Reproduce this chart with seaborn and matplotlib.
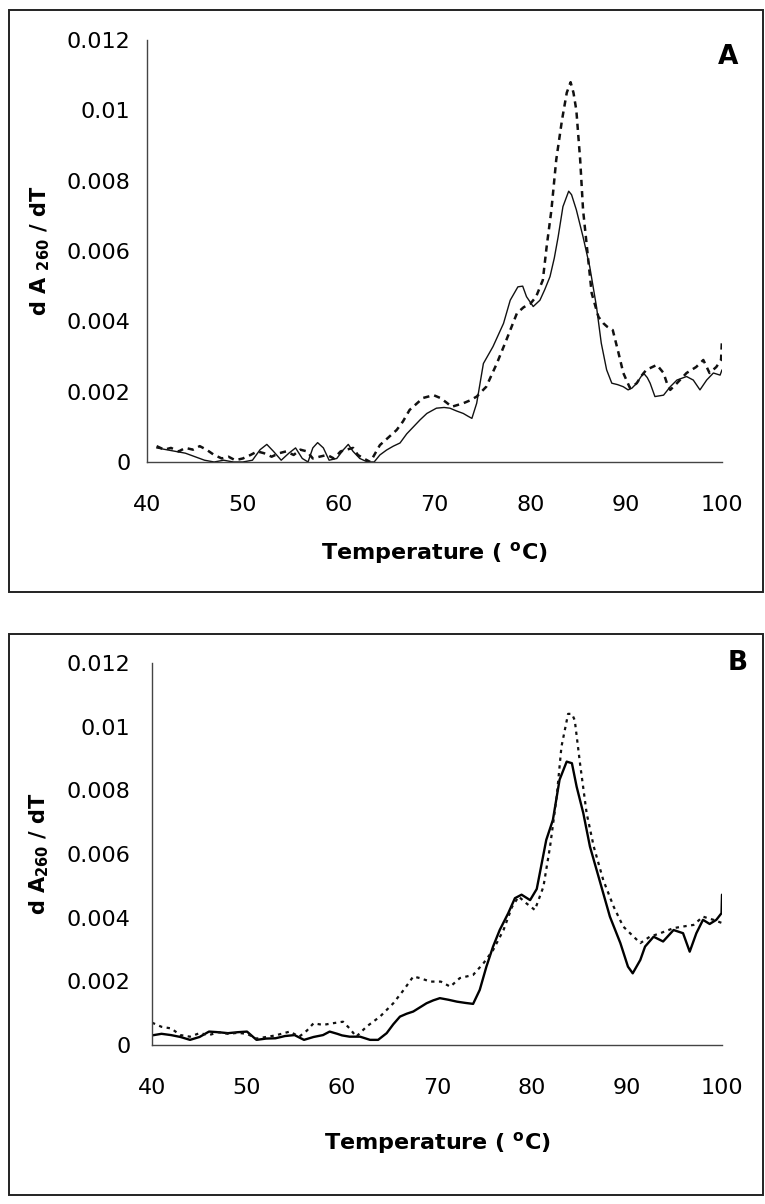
import matplotlib
matplotlib.use("Agg")
import matplotlib.pyplot as plt
from matplotlib.patches import Rectangle
import seaborn as sns
import numpy as np

sns.set_style("white")
plt.rcParams['font.family'] = ['DejaVu Sans']
plt.rcParams['mathtext.fontset'] = 'dejavusans'
plt.rcParams['text.color'] = 'black'
plt.rcParams['axes.labelcolor'] = 'black'
plt.rcParams['xtick.labelcolor'] = 'black'
plt.rcParams['ytick.labelcolor'] = 'black'

# ---- panel A (values in units of 1e-3) ----
a_solid_t = [41.0, 42.0, 43.0, 44.0, 45.0, 46.0, 47.0, 48.0, 49.0, 50.0, 51.0, 51.8, 52.5, 53.2,
             54.0, 54.8, 55.5, 56.2, 56.8, 57.3, 57.8, 58.4, 59.0, 59.8, 60.5, 61.0, 61.5, 62.2,
             63.0, 63.7, 64.3, 65.0, 65.7, 66.4, 67.1, 67.8, 68.5, 69.2, 70.2, 71.0, 71.6, 72.3,
             73.0, 73.5, 73.9, 74.4, 75.1, 76.1, 77.2, 77.9, 78.7, 79.2, 79.6, 80.3, 81.0, 81.5,
             82.05, 82.5, 82.9, 83.4, 84.0, 84.3, 84.8, 85.5, 86.2, 86.9, 87.4, 87.96, 88.5, 89.1,
             89.7, 90.2, 90.6, 91.1, 91.8, 92.2, 92.5, 93.0, 93.9, 94.6, 95.3, 96.3, 97.0, 97.7,
             98.4, 99.1, 99.8, 100.0]
a_solid_v = [0.40, 0.35, 0.30, 0.25, 0.15, 0.05, 0.0, 0.05, 0.0, 0.0, 0.05, 0.35, 0.50, 0.30,
             0.05, 0.25, 0.40, 0.10, 0.0, 0.40, 0.55, 0.40, 0.05, 0.10, 0.35, 0.50, 0.30, 0.10,
             0.0, 0.0, 0.20, 0.34, 0.45, 0.54, 0.80, 1.00, 1.20, 1.38, 1.53, 1.55, 1.53, 1.45,
             1.38, 1.30, 1.24, 1.67, 2.80, 3.28, 3.94, 4.60, 4.98, 5.00, 4.70, 4.42, 4.60, 4.90,
             5.27, 5.80, 6.40, 7.26, 7.70, 7.60, 7.17, 6.40, 5.55, 4.42, 3.38, 2.62, 2.24, 2.20,
             2.14, 2.05, 2.10, 2.24, 2.53, 2.40, 2.24, 1.86, 1.90, 2.14, 2.33, 2.43, 2.33, 2.05,
             2.33, 2.53, 2.47, 2.62]

a_dash_t = [41.0, 41.8, 42.5, 43.3, 44.0, 44.8, 45.5, 46.2, 47.0, 47.8, 48.5, 49.2, 50.0, 50.8,
            51.5, 52.2, 53.0, 53.8, 54.5, 55.3, 56.0, 56.7, 57.3, 58.0, 58.8, 59.5, 60.2, 60.8,
            61.5, 62.0, 62.6, 63.3, 64.3, 65.2, 66.05, 66.7, 67.4, 68.1, 68.8, 69.9, 70.6, 71.2,
            71.8, 72.4, 73.0, 73.7, 74.4, 75.4, 76.5, 77.5, 78.6, 79.3, 80.0, 80.6, 81.3, 81.7,
            82.2, 82.7, 83.3, 83.8, 84.2, 84.5, 84.8, 85.2, 85.5, 85.9, 86.4, 87.1, 87.6, 88.0,
            88.6, 89.2, 89.7, 90.4, 91.1, 91.6, 92.1, 93.2, 93.9, 94.3, 94.6, 95.3, 96.3, 97.3,
            98.05, 98.7, 99.4, 99.9, 100.0]
a_dash_v = [0.45, 0.35, 0.40, 0.30, 0.40, 0.35, 0.45, 0.35, 0.20, 0.10, 0.15, 0.05, 0.10, 0.20,
            0.30, 0.25, 0.15, 0.25, 0.30, 0.20, 0.35, 0.30, 0.10, 0.15, 0.20, 0.10, 0.30, 0.35,
            0.40, 0.20, 0.10, 0.0, 0.48, 0.70, 0.91, 1.15, 1.48, 1.65, 1.82, 1.90, 1.82, 1.70,
            1.57, 1.62, 1.67, 1.75, 1.86, 2.14, 2.80, 3.47, 4.23, 4.40, 4.50, 4.70, 5.17, 6.12,
            7.17, 8.59, 9.72, 10.50, 10.80, 10.50, 10.00, 8.59, 7.17, 6.12, 4.80, 4.13, 3.95, 3.85,
            3.75, 3.10, 2.53, 2.10, 2.24, 2.45, 2.62, 2.76, 2.53, 2.20, 2.05, 2.24, 2.53, 2.70,
            2.90, 2.53, 2.70, 2.90, 3.50]

# ---- panel B (values in units of 1e-3) ----
b_solid_t = [40.0, 41.0, 42.0, 43.0, 44.0, 45.0, 46.0, 47.0, 48.0, 49.0, 50.0, 51.0, 52.0, 53.0,
             54.0, 55.0, 56.0, 57.0, 58.0, 58.7, 59.5, 60.0, 60.8, 61.9, 62.95, 63.8, 64.7, 65.4,
             66.1, 66.8, 67.5, 68.2, 68.9, 69.6, 70.3, 71.2, 72.1, 73.0, 73.8, 74.5, 75.2, 75.9,
             76.6, 77.5, 78.2, 78.9, 79.8, 80.5, 81.5, 82.2, 82.9, 83.65, 84.2, 84.7, 85.4, 86.1,
             87.2, 88.2, 89.3, 90.1, 90.6, 91.4, 91.9, 92.8, 93.8, 94.9, 95.9, 96.6, 97.3, 98.0,
             98.7, 99.4, 99.95, 100.0]
b_solid_v = [0.30, 0.35, 0.31, 0.25, 0.16, 0.25, 0.42, 0.40, 0.37, 0.40, 0.42, 0.16, 0.20, 0.21,
             0.28, 0.31, 0.16, 0.25, 0.31, 0.42, 0.35, 0.30, 0.26, 0.26, 0.16, 0.16, 0.37, 0.65,
             0.89, 0.98, 1.05, 1.18, 1.31, 1.40, 1.47, 1.42, 1.36, 1.32, 1.29, 1.73, 2.46, 3.09,
             3.61, 4.14, 4.61, 4.72, 4.55, 4.90, 6.44, 7.07, 8.33, 8.90, 8.85, 8.11, 7.28, 6.23,
             5.08, 4.03, 3.20, 2.46, 2.25, 2.67, 3.09, 3.40, 3.25, 3.61, 3.51, 2.93, 3.51, 3.93,
             3.80, 3.93, 4.14, 4.72]

b_dash_t = [40.0, 41.0, 42.0, 43.0, 44.0, 45.0, 46.0, 47.0, 48.0, 49.0, 50.0, 51.0, 52.0, 53.0,
            54.5, 55.5, 56.3, 57.0, 58.0, 59.0, 60.1, 60.8, 61.5, 62.6, 64.0, 65.4, 66.5, 67.5,
            68.2, 69.3, 70.4, 71.4, 72.4, 73.8, 74.9, 75.9, 77.0, 77.9, 78.6, 79.4, 80.3, 81.2,
            81.9, 82.6, 83.1, 83.8, 84.2, 84.5, 85.05, 85.75, 86.5, 87.5, 88.6, 89.6, 90.7, 91.4,
            92.4, 93.5, 94.9, 95.9, 97.0, 98.0, 99.1, 100.0]
b_dash_v = [0.70, 0.57, 0.52, 0.31, 0.26, 0.37, 0.31, 0.40, 0.35, 0.38, 0.35, 0.20, 0.25, 0.30,
            0.42, 0.26, 0.45, 0.68, 0.63, 0.68, 0.73, 0.52, 0.26, 0.58, 0.89, 1.31, 1.73, 2.15,
            2.10, 1.99, 1.99, 1.83, 2.10, 2.20, 2.57, 2.98, 3.61, 4.34, 4.66, 4.45, 4.24, 4.97,
            6.23, 7.80, 9.37, 10.40, 10.40, 10.20, 8.85, 7.28, 6.23, 5.18, 4.34, 3.72, 3.40, 3.20,
            3.40, 3.51, 3.67, 3.72, 3.77, 4.03, 3.93, 3.83]

x_ticks = [40, 50, 60, 70, 80, 90, 100]
y_ticks = [0, 0.002, 0.004, 0.006, 0.008, 0.01, 0.012]
y_ticklabels = ['0', '0.002', '0.004', '0.006', '0.008', '0.01', '0.012']

fig = plt.figure(figsize=(7.65, 12.04), dpi=100)

# panel frames
for (x0, y0, w, h) in [(0.012, 0.5083, 0.985, 0.4834), (0.012, 0.0075, 0.985, 0.466)]:
    fig.add_artist(Rectangle((x0, y0), w, h, transform=fig.transFigure,
                             fill=False, edgecolor='#222222', linewidth=1.4))

axA = fig.add_axes([0.1922, 0.6163, 0.7516, 0.3505])
axB = fig.add_axes([0.1987, 0.1321, 0.7451, 0.3173])

sns.lineplot(x=a_solid_t, y=np.array(a_solid_v) / 1000, ax=axA, color='#111111',
             linewidth=1.0, estimator=None, sort=False)
sns.lineplot(x=a_dash_t, y=np.array(a_dash_v) / 1000, ax=axA, color='#111111',
             linewidth=1.8, linestyle=(0, (2.5, 2)), estimator=None, sort=False)
sns.lineplot(x=b_solid_t, y=np.array(b_solid_v) / 1000, ax=axB, color='black',
             linewidth=1.7, estimator=None, sort=False)
sns.lineplot(x=b_dash_t, y=np.array(b_dash_v) / 1000, ax=axB, color='#111111',
             linewidth=1.6, linestyle=(0, (1.5, 2)), estimator=None, sort=False)

ylabels = [r'd A $_{\mathbf{260}}$ / dT', r'd A$_{\mathbf{260}}$ / dT']
for ax, letter, lab, lx, ycoord, ypad, xl_y in [
        (axA, 'A', ylabels[0], -0.165, (1.0104, 0.96), 8, -0.185),
        (axB, 'B', ylabels[1], -0.178, (1.028, 1.0), 11.5, -0.222)]:
    ax.set_xlim(40, 100)
    ax.set_ylim(0, 0.012)
    ax.set_xticks(x_ticks)
    ax.set_yticks(y_ticks)
    ax.set_yticklabels(y_ticklabels)
    for s in ['top', 'right']:
        ax.spines[s].set_visible(False)
    for s in ['left', 'bottom']:
        ax.spines[s].set_color('#444444')
        ax.spines[s].set_linewidth(1.0)
    ax.tick_params(axis='x', direction='inout', length=8, width=1, color='#444444',
                   labelsize=16, pad=20)
    ax.tick_params(axis='y', direction='inout', length=8, width=1, color='#444444',
                   labelsize=16, pad=ypad)
    ax.set_xlabel(r'Temperature ( $^{\mathbf{o}}$C)', fontsize=16, fontweight='bold')
    ax.xaxis.set_label_coords(0.5, xl_y)
    ax.set_ylabel(lab, fontsize=15, fontweight='bold')
    ax.yaxis.set_label_coords(lx, 0.5)
    ax.text(ycoord[0], ycoord[1], letter, transform=ax.transAxes, fontsize=19,
            fontweight='bold', ha='center', va='center')
    ax.grid(False)

fig.savefig('out.png', dpi=100)
